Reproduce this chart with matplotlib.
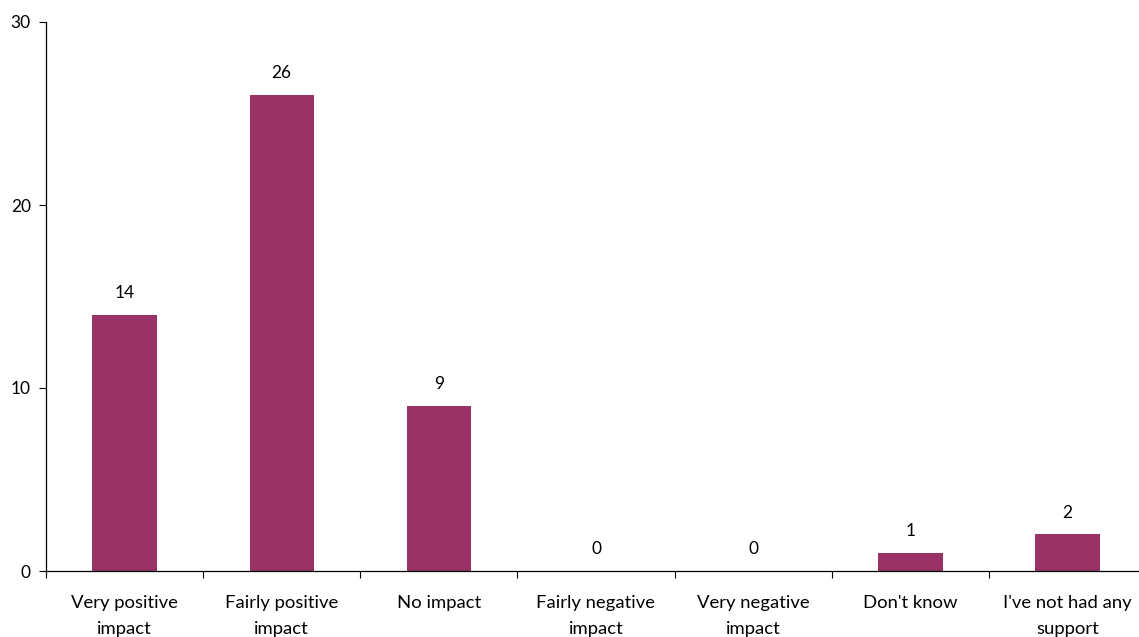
import matplotlib.pyplot as plt
import numpy as np

categories = ["Very positive\nimpact", "Fairly positive\nimpact", "No impact",
              "Fairly negative\nimpact", "Very negative\nimpact", "Don't know",
              "I've not had any\nsupport"]
counts = [14, 26, 9, 0, 0, 1, 2]
yticks = [0, 10, 20, 30]

plt.rcParams['font.family'] = ['Lato', 'DejaVu Sans']

W, H = 1139, 637
fig = plt.figure(figsize=(W / 100, H / 100), dpi=100)
# axes box in pixels: left 46, right 1146 (runs past the edge), top 22, bottom 571
ax = fig.add_axes([46 / W, (H - 571) / H, 1100 / W, 549 / H])

x = np.arange(len(categories))
bars = ax.bar(x, counts, width=0.41, color='#993366', zorder=2)

for xi, v in zip(x, counts):
    ax.annotate(str(v), (xi, v), xytext=(0, 10), textcoords='offset points',
                ha='center', va='bottom', fontsize=12.5, color='black')

ax.set_xlim(-0.5, len(categories) - 0.5)
ax.set_ylim(0, 30)
ax.set_yticks(yticks)
ax.set_xticks(x)
ax.set_xticklabels(categories, fontsize=13.3, linespacing=1.8)
ax.set_xticks(np.arange(-0.5, len(categories)), minor=True)
ax.tick_params(axis='x', which='major', length=0, pad=17)
ax.tick_params(axis='x', which='minor', length=5, width=0.8, direction='out')
ax.tick_params(axis='y', length=5, width=0.8, labelsize=12.5, pad=6)

for side in ['top', 'right']:
    ax.spines[side].set_visible(False)
for side in ['left', 'bottom']:
    ax.spines[side].set_linewidth(0.9)

fig.savefig('out.png', dpi=100)
